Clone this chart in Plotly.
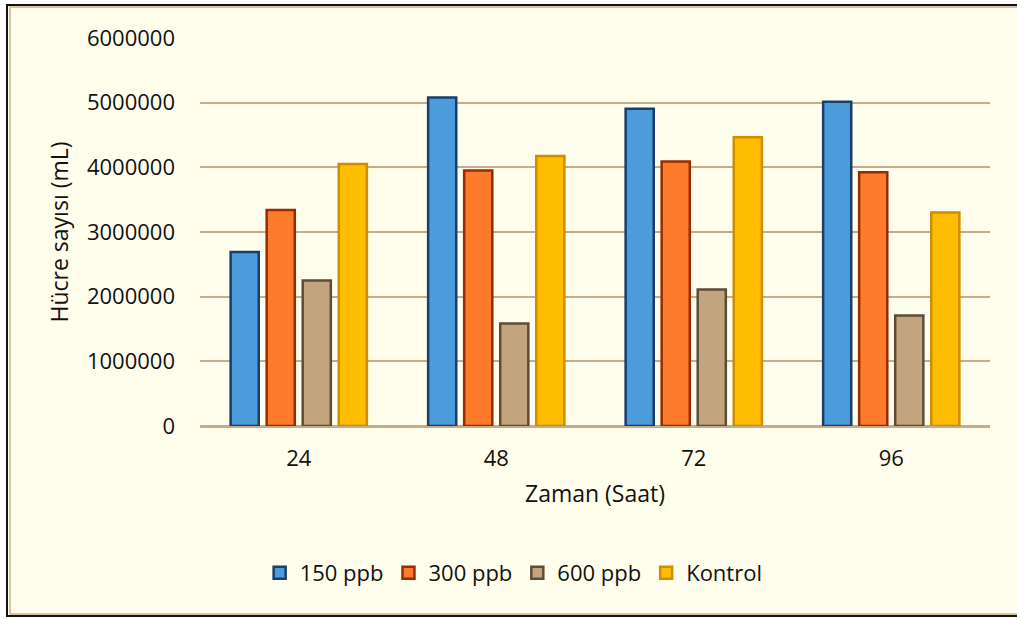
import plotly.graph_objects as go

# Cell counts per exposure time (hours) and treatment group
hours = ["24", "48", "72", "96"]
ppb_150 = [2690000, 5080000, 4905000, 5015000]
ppb_300 = [3340000, 3950000, 4090000, 3925000]
ppb_600 = [2250000, 1585000, 2110000, 1710000]
kontrol = [4050000, 4175000, 4465000, 3300000]

series = [
    ("150 ppb", ppb_150, "#4C9BDA", "#163F6B"),
    ("300 ppb", ppb_300, "#FD7B2A", "#962C02"),
    ("600 ppb", ppb_600, "#C2A47F", "#5C4C38"),
    ("Kontrol", kontrol, "#FFBD00", "#CF8D00"),
]

FONT = "Open Sans, DejaVu Sans, sans-serif"
INK = "#111111"
GRID = "#C6AD88"
CREAM = "#FFFDEC"

fig = go.Figure()
for name, vals, fill, edge in series:
    fig.add_trace(go.Bar(
        x=hours, y=vals, name=name,
        marker=dict(color=fill, line=dict(color=edge, width=2.5)),
    ))

# Outer frame: cream panel with a black border and a tan inner edge
fig.add_shape(type="rect", xref="paper", yref="paper",
              x0=-0.2443, x1=1.04, y0=-0.4897, y1=1.0851,
              fillcolor=CREAM, line=dict(color="#111111", width=2), layer="below")
fig.add_shape(type="rect", xref="paper", yref="paper",
              x0=-0.2405, x1=1.05, y0=-0.4845, y1=1.0800,
              fillcolor="rgba(0,0,0,0)", line=dict(color="#D9C3A0", width=2), layer="below")

fig.update_layout(
    width=1017, height=619,
    margin=dict(l=200, r=27, t=38, b=193),
    paper_bgcolor="white",
    plot_bgcolor="rgba(0,0,0,0)",
    font=dict(family=FONT, color=INK, size=22),
    barmode="group",
    bargap=0.27,
    bargroupgap=0.22,
    showlegend=True,
    legend=dict(
        orientation="h", x=0.397, xanchor="center", y=-0.379, yanchor="middle",
        font=dict(size=22, family=FONT, color=INK), bgcolor="rgba(0,0,0,0)",
        itemclick=False,
    ),
    xaxis=dict(
        title=dict(text="Zaman (Saat)", font=dict(size=23, family=FONT, color=INK), standoff=14),
        showgrid=False, showline=True, linecolor=GRID, linewidth=2,
        ticks="", tickfont=dict(size=22, family=FONT, color=INK),
        ticklabelstandoff=12,
    ),
    yaxis=dict(
        title=dict(text="Hücre sayısı (mL)", font=dict(size=23, family=FONT, color=INK), standoff=11),
        range=[0, 6000000], dtick=1000000, tickformat="d",
        showgrid=True, gridcolor=GRID, gridwidth=2,
        zeroline=True, zerolinecolor=GRID, zerolinewidth=2,
        showline=False, ticks="",
        tickfont=dict(size=22, family=FONT, color=INK),
        ticklabelstandoff=24,
    ),
)

fig.write_html("out.html")
